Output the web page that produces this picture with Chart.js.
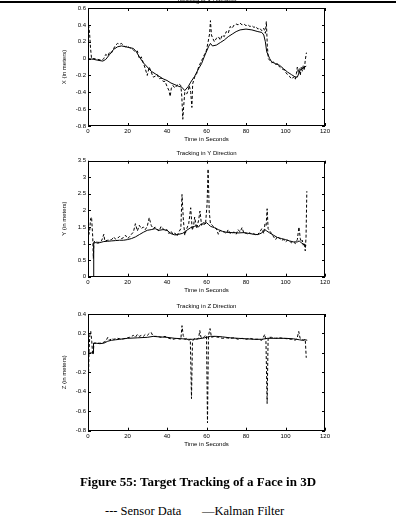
<!DOCTYPE html>
<html>
<head>
<meta charset="utf-8">
<script src="https://cdn.jsdelivr.net/npm/chart.js@4.4.0/dist/chart.umd.min.js"></script>
<style>
  body { margin: 0; background: #fff; width: 396px; height: 526px; overflow: hidden; position: relative; }
  canvas { position: absolute; left: 0; }
  #topline { position: absolute; left: 0; top: 1px; width: 396px; height: 2px; background: #000; }
  #caption { position: absolute; left: 0; top: 474px; width: 396px; text-align: center;
    font: bold 13px "Liberation Serif", "Times New Roman", serif; line-height: 16px; color: #000; }
  .leg { position: absolute; top: 503px; font: 12.5px "Liberation Serif", "Times New Roman", serif;
    line-height: 16px; color: #000; white-space: pre; }
</style>
</head>
<body>
<canvas id="cx" width="396" height="156" style="top:-6px"></canvas>
<canvas id="cy" width="396" height="160" style="top:140px"></canvas>
<canvas id="cz" width="396" height="160" style="top:295px"></canvas>
<div id="topline"></div>
<div id="caption">Figure 55: Target Tracking of a Face in 3D</div>
<span class="leg" style="left:105px">--- Sensor Data</span>
<span class="leg" style="left:202px">—Kalman Filter</span>

<script>
// X direction
const xKalmanT = [0, 3, 5, 7.5, 9, 11, 13, 15, 17, 19, 21, 23, 24.5, 26, 28, 30, 32, 34, 36, 38, 40, 42, 44, 46, 47.5, 49, 50.8, 52, 54, 56, 57.5, 59, 61, 62, 63, 65, 67, 69, 71, 73, 75, 77, 80, 83, 86, 88, 89, 89.8, 90.5, 92, 93, 95, 97, 99, 101, 103, 105, 106, 107.3, 109, 110.5];
const xKalman  = [0, -0.01, -0.02, -0.03, -0.01, 0.05, 0.11, 0.14, 0.15, 0.14, 0.13, 0.12, 0.08, 0.02, -0.05, -0.10, -0.15, -0.18, -0.21, -0.24, -0.26, -0.29, -0.31, -0.33, -0.34, -0.38, -0.33, -0.28, -0.21, -0.12, -0.06, 0.03, 0.14, 0.18, 0.15, 0.16, 0.19, 0.22, 0.26, 0.29, 0.32, 0.34, 0.35, 0.34, 0.32, 0.31, 0.28, 0.20, 0.08, 0.0, -0.04, -0.06, -0.08, -0.12, -0.16, -0.19, -0.22, -0.22, -0.14, -0.11, -0.09];
const xSensorT = [0.3, 0.8, 1.3, 1.8, 3, 5, 7, 8, 9, 10, 11, 12, 13, 14, 15, 16, 17, 18, 19, 20, 21, 22, 23, 24, 25, 26, 27, 28, 29, 30, 31, 32, 33, 34, 35, 36, 37, 38, 39, 40, 41, 41.6, 42.2, 43, 44, 45, 46, 47, 47.5, 48, 48.5, 49, 50, 50.7, 51.3, 52, 52.6, 53, 54, 55, 56, 57, 58, 59, 60, 61, 61.6, 62, 62.5, 63, 64, 65, 66, 67, 68, 69, 70, 71, 72, 73, 74, 75, 76, 77, 78, 79, 80, 81, 82, 83, 84, 85, 86, 87, 88, 89, 89.8, 90.3, 90.8, 91.3, 92, 93, 94, 95, 96, 97, 98, 99, 100, 101, 102, 103, 104, 105, 105.5, 106, 106.5, 107, 107.5, 108, 108.5, 109, 109.5, 110, 110.6];
const xSensor  = [0.40, 0.30, 0.12, 0.0, 0.0, -0.01, -0.02, 0.0, 0.05, 0.03, 0.08, 0.07, 0.12, 0.16, 0.18, 0.17, 0.18, 0.15, 0.14, 0.15, 0.13, 0.12, 0.10, 0.08, 0.09, 0.0, 0.02, -0.05, -0.12, -0.20, -0.10, -0.16, -0.22, -0.21, -0.19, -0.24, -0.23, -0.27, -0.27, -0.33, -0.38, -0.45, -0.35, -0.32, -0.35, -0.32, -0.30, -0.32, -0.45, -0.72, -0.55, -0.40, -0.42, -0.38, -0.32, -0.40, -0.58, -0.30, -0.22, -0.18, -0.10, -0.05, 0.0, 0.05, 0.10, 0.22, 0.30, 0.45, 0.28, 0.25, 0.20, 0.24, 0.26, 0.22, 0.28, 0.26, 0.32, 0.30, 0.38, 0.36, 0.40, 0.41, 0.40, 0.42, 0.40, 0.41, 0.39, 0.40, 0.38, 0.39, 0.37, 0.38, 0.35, 0.36, 0.33, 0.36, 0.30, 0.44, 0.15, 0.0, -0.02, -0.05, -0.04, -0.07, -0.06, -0.10, -0.12, -0.13, -0.16, -0.19, -0.21, -0.24, -0.22, -0.25, -0.18, -0.10, -0.17, -0.12, -0.20, -0.10, -0.15, -0.08, -0.14, -0.02, 0.07];

// Y direction
const yKalmanT = [2.7, 2.9, 4, 5, 6, 8, 10, 12, 14, 16, 18, 20, 22, 24, 26, 28, 30, 32, 34, 36, 38, 40, 42, 44, 46, 48, 50, 52, 54, 55, 56, 57, 58, 59, 60, 61, 62, 64, 66, 68, 70, 73, 76, 79, 82, 84, 86, 88, 89.5, 90.5, 92, 94, 96, 98, 100, 102, 104, 106, 107, 108, 109.5, 110.5];
const yKalman  = [0.0, 1.02, 1.03, 1.01, 1.03, 1.06, 1.07, 1.08, 1.09, 1.10, 1.10, 1.12, 1.15, 1.20, 1.27, 1.34, 1.40, 1.42, 1.45, 1.40, 1.42, 1.40, 1.30, 1.26, 1.28, 1.31, 1.40, 1.48, 1.52, 1.55, 1.50, 1.58, 1.60, 1.58, 1.63, 1.58, 1.52, 1.48, 1.42, 1.37, 1.34, 1.33, 1.32, 1.33, 1.30, 1.28, 1.27, 1.32, 1.42, 1.38, 1.32, 1.25, 1.18, 1.15, 1.12, 1.08, 1.05, 1.05, 1.08, 1.02, 0.97, 0.94];
const ySensorT = [0.3, 0.8, 1.3, 1.8, 2.4, 2.7, 3.0, 4, 5, 6, 7, 8, 8.5, 10, 12, 13, 14, 15, 16, 17, 18, 19, 20, 21, 22, 23, 24, 25, 26, 27, 28, 29, 30, 31, 32, 33, 34, 35, 36, 37, 38, 39, 40, 41, 42, 43, 44, 45, 46, 47, 47.6, 48.3, 49, 50, 51, 52, 52.8, 53.5, 54, 55, 56, 56.7, 57.5, 58.5, 59.5, 60.3, 60.8, 61.4, 62, 63, 64, 65, 66, 67, 68, 69, 70, 71, 72, 73, 74, 75, 76, 77, 78, 79, 80, 81, 82, 83, 84, 85, 86, 87, 88, 89, 89.6, 90.2, 90.7, 91.2, 92, 93, 94, 95, 96, 97, 98, 99, 100, 101, 102, 103, 104, 105, 106, 106.8, 107.5, 108, 108.5, 109, 109.5, 110, 110.4, 110.8];
const ySensor  = [1.25, 1.35, 1.75, 1.80, 1.20, 0.55, 1.05, 1.08, 1.03, 1.05, 1.10, 1.28, 1.08, 1.10, 1.12, 1.20, 1.13, 1.16, 1.22, 1.15, 1.18, 1.25, 1.15, 1.20, 1.28, 1.35, 1.60, 1.38, 1.55, 1.45, 1.50, 1.42, 1.52, 1.78, 1.55, 1.45, 1.50, 1.42, 1.38, 1.52, 1.45, 1.38, 1.42, 1.30, 1.38, 1.28, 1.32, 1.22, 1.35, 1.45, 2.48, 1.70, 1.25, 1.45, 1.60, 2.08, 1.40, 1.55, 1.80, 1.45, 1.70, 1.98, 1.55, 1.65, 1.58, 2.20, 3.25, 1.95, 1.60, 1.55, 1.48, 1.45, 1.28, 1.40, 1.36, 1.35, 1.30, 1.42, 1.30, 1.32, 1.35, 1.28, 1.42, 1.35, 1.48, 1.30, 1.32, 1.28, 1.33, 1.27, 1.30, 1.25, 1.28, 1.35, 1.45, 1.30, 1.60, 1.55, 2.05, 1.45, 1.38, 1.30, 1.20, 1.12, 1.22, 1.15, 1.10, 1.12, 1.05, 1.10, 1.08, 1.02, 1.05, 1.00, 1.12, 1.50, 1.15, 1.05, 1.10, 0.95, 1.02, 0.78, 1.20, 2.58];

// Z direction
const zKalmanT = [0, 2.6, 2.8, 4, 6, 8, 10, 12, 14, 16, 18, 20, 25, 30, 33, 36, 40, 44, 48, 50, 53, 56, 59, 62, 65, 68, 72, 76, 80, 84, 88, 91, 95, 100, 104, 107, 108.5, 110, 111];
const zKalman  = [0, 0, 0.10, 0.10, 0.095, 0.10, 0.12, 0.13, 0.135, 0.14, 0.145, 0.15, 0.155, 0.16, 0.17, 0.165, 0.16, 0.15, 0.145, 0.14, 0.14, 0.145, 0.155, 0.17, 0.17, 0.165, 0.155, 0.15, 0.145, 0.14, 0.14, 0.15, 0.15, 0.15, 0.145, 0.135, 0.13, 0.135, 0.13];
const zSensorT = [0.2, 0.5, 0.9, 1.4, 1.9, 2.3, 2.6, 3, 5, 7, 9, 10, 11, 12, 13, 15, 17, 19, 21, 23, 24, 25, 26, 27, 28, 29, 30, 31, 32, 33, 35, 37, 39, 41, 43, 45, 47, 47.6, 48.2, 49, 50, 51, 51.8, 52.4, 52.9, 54, 55, 56, 56.6, 57.2, 58, 59, 60, 60.5, 61, 61.8, 62.5, 64, 66, 68, 70, 72, 74, 76, 78, 80, 82, 84, 86, 88, 89.5, 90.1, 90.7, 91.2, 93, 95, 97, 99, 101, 103, 105, 106, 106.7, 107.4, 108, 109, 110, 110.5];
const zSensor  = [-0.30, 0.0, 0.18, 0.22, 0.12, 0.0, -0.02, 0.10, 0.10, 0.10, 0.12, 0.16, 0.13, 0.15, 0.14, 0.15, 0.14, 0.15, 0.16, 0.18, 0.16, 0.19, 0.17, 0.18, 0.17, 0.19, 0.18, 0.20, 0.21, 0.17, 0.17, 0.16, 0.17, 0.15, 0.14, 0.15, 0.14, 0.28, 0.18, 0.14, 0.15, 0.13, 0.14, -0.47, 0.12, 0.15, 0.14, 0.15, 0.23, 0.16, 0.15, 0.17, 0.18, -0.72, 0.18, 0.25, 0.16, 0.17, 0.16, 0.15, 0.155, 0.15, 0.155, 0.14, 0.15, 0.14, 0.15, 0.14, 0.14, 0.13, 0.19, 0.12, -0.52, 0.16, 0.16, 0.15, 0.155, 0.15, 0.145, 0.14, 0.13, 0.16, 0.22, 0.15, 0.14, 0.13, 0.14, -0.05];

const FONT = '"Liberation Sans", Arial, sans-serif';

// Achsenrahmen mit Ticks nach innen (wie MATLAB)
const boxTicks = {
  id: 'boxTicks',
  afterDatasetsDraw(chart) {
    const { ctx, chartArea: a, scales } = chart;
    ctx.save();
    ctx.strokeStyle = '#000';
    ctx.lineWidth = 1;
    ctx.strokeRect(Math.round(a.left) + 0.5, Math.round(a.top) + 0.5,
      Math.round(a.right - a.left) - 1, Math.round(a.bottom - a.top) - 1);
    ctx.beginPath();
    scales.x.ticks.forEach(t => {
      const px = Math.round(scales.x.getPixelForValue(t.value)) + 0.5;
      ctx.moveTo(px, a.bottom); ctx.lineTo(px, a.bottom - 3);
      ctx.moveTo(px, a.top); ctx.lineTo(px, a.top + 3);
    });
    scales.y.ticks.forEach(t => {
      const py = Math.round(scales.y.getPixelForValue(t.value)) + 0.5;
      ctx.moveTo(a.left, py); ctx.lineTo(a.left + 3, py);
      ctx.moveTo(a.right, py); ctx.lineTo(a.right - 3, py);
    });
    ctx.stroke();
    ctx.restore();
  }
};

function pts(ts, vs) {
  return ts.map((t, i) => ({ x: t, y: vs[i] }));
}

// Tick-Beschriftung ohne "-0.0"
function fmt(v) {
  const r = Math.round(v * 10) / 10;
  return r === 0 ? '0' : String(r);
}

function makeChart(id, cfg) {
  new Chart(document.getElementById(id), {
    type: 'line',
    data: {
      datasets: [
        { data: pts(cfg.sensorT, cfg.sensor), borderColor: '#000', borderWidth: 1, borderDash: [3, 2], pointRadius: 0, tension: 0 },
        { data: pts(cfg.kalmanT, cfg.kalman), borderColor: '#000', borderWidth: 1, pointRadius: 0, tension: 0 }
      ]
    },
    options: {
      responsive: false,
      animation: false,
      devicePixelRatio: 1,
      layout: { padding: { top: cfg.padTop, bottom: cfg.padBottom, left: 0, right: 71 } },
      plugins: {
        legend: { display: false },
        tooltip: { enabled: false },
        title: {
          display: true, text: cfg.title, fullSize: false, color: '#000',
          font: { size: 6, family: FONT, weight: 'normal' },
          padding: { top: 0, bottom: cfg.titleGap }
        }
      },
      scales: {
        x: {
          type: 'linear', min: 0, max: 120,
          ticks: { stepSize: 20, color: '#000', font: { size: 6, family: FONT }, padding: 2, maxRotation: 0 },
          grid: { display: false, drawTicks: false },
          border: { display: false },
          title: { display: true, text: 'Time in Seconds', color: '#000', font: { size: 6, family: FONT }, padding: { top: 0, bottom: 0 } },
          afterFit: s => { s.height = 17; }
        },
        y: {
          min: cfg.min, max: cfg.max,
          ticks: { stepSize: cfg.step, color: '#000', font: { size: 6, family: FONT }, padding: 2, callback: fmt },
          grid: { display: false, drawTicks: false },
          border: { display: false },
          title: { display: true, text: cfg.yTitle, color: '#000', font: { size: 6, family: FONT }, padding: { top: 61, bottom: 0 } },
          afterFit: s => { s.width = 88; }
        }
      }
    },
    plugins: [boxTicks]
  });
}

makeChart('cx', {
  title: 'Tracking in X Direction', yTitle: 'X (in meters)',
  min: -0.8, max: 0.6, step: 0.2,
  padTop: 4, titleGap: 2.8, padBottom: 7,
  kalmanT: xKalmanT, kalman: xKalman, sensorT: xSensorT, sensor: xSensor
});
makeChart('cy', {
  title: 'Tracking in Y Direction', yTitle: 'Y (in meters)',
  min: 0, max: 3.5, step: 0.5,
  padTop: 9.7, titleGap: 3.8, padBottom: 6.3,
  kalmanT: yKalmanT, kalman: yKalman, sensorT: ySensorT, sensor: ySensor
});
makeChart('cz', {
  title: 'Tracking in Z Direction', yTitle: 'Z (in meters)',
  min: -0.8, max: 0.4, step: 0.2,
  padTop: 7.4, titleGap: 4.4, padBottom: 7.3,
  kalmanT: zKalmanT, kalman: zKalman, sensorT: zSensorT, sensor: zSensor
});
</script>
</body>
</html>
